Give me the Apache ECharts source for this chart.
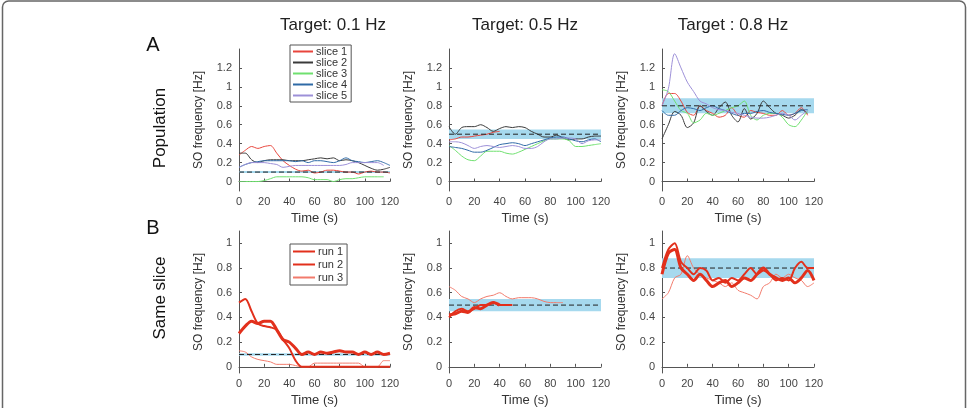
<!DOCTYPE html>
<html>
<head>
<meta charset="utf-8">
<script src="https://cdn.jsdelivr.net/npm/echarts@6/dist/echarts.min.js"></script>
<style>
  html, body { margin: 0; padding: 0; background: #fff; }
  #main { width: 969px; height: 408px; }
</style>
</head>
<body>
<div id="main"></div>
<script>
// time axis, seconds
var timeSec = [0,5,10,15,20,25,30,35,40,45,50,55,60,65,70,75,80,85,90,95,100,105,110,115,120];
var xTicks = [0,20,40,60,80,100,120];
var yTicksA = [0,0.2,0.4,0.6,0.8,1,1.2];
var yTicksB = [0,0.2,0.4,0.6,0.8,1];

var targets = [0.1, 0.5, 0.8];
var bandHalf = [0.01, 0.05, 0.08];
var titles = ['Target: 0.1 Hz', 'Target: 0.5 Hz', 'Target : 0.8 Hz'];

var sliceNames = ['slice 1','slice 2','slice 3','slice 4','slice 5'];
var runNames = ['run 1','run 2','run 3'];

// Population, target 0.1 Hz
var pop01_s1 = [0.28,0.33,0.37,0.35,0.37,0.38,0.30,0.22,0.17,0.13,0.11,0.12,0.09,0.10,0.12,0.12,0.11,0.10,0.10,0.08,0.10,0.11,0.10,0.10,0.09];
var pop01_s2 = [0.30,0.30,0.23,0.20,0.22,0.23,0.23,0.23,0.22,0.22,0.22,0.23,0.24,0.25,0.24,0.25,0.22,0.23,0.22,0.20,0.17,0.14,0.12,0.13,0.15];
var pop01_s3 = [0.00,0.00,0.00,0.00,0.01,0.03,0.05,0.05,0.05,0.05,0.05,0.04,0.02,0.02,0.02,0.00,0.02,0.03,0.03,0.04,0.05,0.05,0.05,0.05,null];
var pop01_s4 = [0.15,0.18,0.20,0.21,0.22,0.22,0.22,0.22,0.22,0.21,0.22,0.20,0.22,0.22,0.21,0.20,0.22,0.25,0.22,0.21,0.20,0.21,0.22,0.20,0.17];
var pop01_s5 = [0.15,0.18,0.20,0.20,0.20,0.19,0.18,0.15,0.16,0.17,0.17,0.17,0.17,0.17,0.17,0.17,0.17,0.18,0.20,0.20,0.20,0.20,0.20,0.17,null];

// Population, target 0.5 Hz
var pop05_s1 = [0.44,0.45,0.47,0.47,0.48,0.49,0.50,0.52,0.53,null,null,null,null,null,null,null,null,null,null,null,null,null,null,null,null];
var pop05_s2 = [0.58,0.50,0.57,0.58,0.58,0.60,0.57,0.53,0.56,0.58,0.57,0.58,0.57,0.53,0.50,0.47,0.47,0.49,0.46,0.44,0.45,0.45,0.47,0.48,0.48];
var pop05_s3 = [0.38,0.33,0.27,0.23,0.22,0.27,0.32,0.32,0.32,0.30,0.29,0.31,0.34,0.37,0.40,0.43,0.45,0.45,0.45,0.43,0.37,0.37,0.38,0.39,0.40];
var pop05_s4 = [0.37,0.36,0.35,0.33,0.31,0.31,0.33,0.36,0.39,0.40,0.41,0.40,0.38,0.40,0.42,0.44,0.46,0.47,0.47,0.45,0.43,0.42,0.44,0.45,0.42];
var pop05_s5 = [0.42,0.42,0.41,0.38,0.35,0.37,0.38,0.37,0.36,0.37,0.38,0.37,0.35,0.35,0.37,0.42,0.45,0.45,0.46,0.46,0.45,0.40,0.43,0.44,0.44];

// Population, target 0.8 Hz
var pop08_s1 = [0.80,0.93,0.93,0.85,0.73,0.70,0.80,0.75,0.72,0.68,0.70,0.78,0.70,0.68,0.75,0.73,0.72,0.70,0.70,0.75,0.70,0.72,0.78,0.70,null];
var pop08_s2 = [0.45,0.60,0.74,0.70,0.57,0.62,0.80,0.74,0.70,0.78,0.84,0.70,0.63,0.77,0.66,0.72,0.85,0.78,0.72,0.70,0.67,0.70,0.76,0.72,null];
var pop08_s3 = [0.97,0.95,0.85,0.75,0.72,0.62,0.65,0.72,0.70,0.72,0.75,0.78,0.80,0.85,0.70,0.65,0.70,0.72,0.72,0.68,0.60,0.58,0.65,0.75,null];
var pop08_s4 = [0.75,0.70,0.70,0.75,0.78,0.77,0.75,0.78,0.80,0.77,0.75,0.72,0.70,0.72,0.72,0.74,0.75,0.73,0.72,0.71,0.70,0.72,0.75,0.76,null];
var pop08_s5 = [0.80,0.98,1.35,1.20,1.05,0.95,0.85,0.82,0.78,0.76,0.75,0.73,0.72,0.70,0.68,0.67,0.67,0.68,0.70,0.72,0.70,0.65,0.70,0.75,null];

// Same slice, target 0.1 Hz
var same01_r1 = [0.27,0.33,0.37,0.35,0.37,0.37,0.30,0.22,0.20,0.15,0.10,0.12,0.10,0.12,0.11,0.12,0.13,0.12,0.12,0.10,0.12,0.10,0.12,0.10,0.11];
var same01_r2 = [0.52,0.55,0.45,0.35,0.33,0.32,0.30,0.22,0.15,0.05,0.00,0.00,0.00,0.00,0.00,0.00,0.00,0.00,0.00,0.00,0.00,0.00,0.00,0.00,0.00];
var same01_r3 = [0.13,0.12,0.08,0.06,0.05,0.04,0.02,0.02,0.02,0.01,0.00,0.00,0.03,0.03,0.03,0.03,0.03,0.03,0.03,0.03,0.00,0.00,0.00,0.05,0.05];

// Same slice, target 0.5 Hz
var same05_r1 = [0.42,0.43,0.45,0.44,0.48,0.47,0.50,0.52,0.50,null,null,null,null,null,null,null,null,null,null,null,null,null,null,null,null];
var same05_r2 = [0.40,0.45,0.47,0.45,0.47,0.50,0.50,0.52,0.50,0.50,0.50,null,null,null,null,null,null,null,null,null,null,null,null,null,null];
var same05_r3 = [0.65,0.62,0.57,0.55,0.52,0.55,0.57,0.58,0.60,0.57,0.55,0.56,0.56,0.56,0.55,0.53,0.52,0.52,0.52,null,null,null,null,null,null];

// Same slice, target 0.8 Hz
var same08_r1 = [0.75,0.92,0.95,0.80,0.75,0.70,0.75,0.70,0.65,0.68,0.70,0.65,0.68,0.72,0.70,0.75,0.80,0.75,0.72,0.70,0.72,0.68,0.72,0.78,0.70];
var same08_r2 = [0.80,0.95,1.00,0.85,0.80,0.75,0.80,0.78,0.70,0.72,0.68,0.72,0.70,0.75,0.80,0.75,0.78,0.75,0.70,0.72,0.70,0.80,0.85,0.80,0.80];
var same08_r3 = [0.55,0.60,0.72,0.75,0.90,0.80,0.75,0.72,0.70,0.68,0.65,0.68,0.62,0.60,0.58,0.55,0.65,0.68,0.75,0.72,0.75,0.72,0.70,0.65,0.68];

var popData = [
    [pop01_s1, pop01_s2, pop01_s3, pop01_s4, pop01_s5],
    [pop05_s1, pop05_s2, pop05_s3, pop05_s4, pop05_s5],
    [pop08_s1, pop08_s2, pop08_s3, pop08_s4, pop08_s5]
];
var sameData = [
    [same01_r1, same01_r2, same01_r3],
    [same05_r1, same05_r2, same05_r3],
    [same08_r1, same08_r2, same08_r3]
];

var sliceColors = ['#e8453c', '#3a3a3a', '#6fe06f', '#2f6aa6', '#9d90d8'];
var runColors = ['#e2301c', '#e2301c', '#f27b6c'];
var runWidths = [3, 2, 1];

(function(){
    var myChart = echarts.init(document.getElementById('main'));
    var font = 'Liberation Sans, Arial, sans-serif';

    var lefts = [239, 449, 662];
    var widths = [151, 152, 152];

    var grids = [], xAxes = [], yAxes = [], series = [];

    function addPanel(row, col) {
        var idx = row * 3 + col;
        grids.push({
            left: lefts[col], width: widths[col],
            top: row === 0 ? 49 : 231, height: 142
        });
        xAxes.push({
            type: 'value', gridIndex: idx, min: 0, max: 120, interval: 20,
            name: 'Time (s)', nameLocation: 'middle', nameGap: 21,
            nameTextStyle: { fontSize: 13, color: '#333', fontFamily: font },
            axisLine: { lineStyle: { color: '#555', width: 1 } },
            axisTick: { inside: true, length: 3, lineStyle: { color: '#555' } },
            axisLabel: { fontSize: 11, color: '#444', margin: 5, fontFamily: font },
            splitLine: { show: false }
        });
        var ticks = row === 0 ? yTicksA : yTicksB;
        yAxes.push({
            type: 'value', gridIndex: idx,
            min: row === 0 ? -0.1 : -0.05, max: row === 0 ? 1.4 : 1.1,
            name: 'SO frequency [Hz]', nameLocation: 'middle', nameGap: 34,
            nameTextStyle: { fontSize: 12, color: '#333', fontFamily: font },
            axisLine: { show: true, lineStyle: { color: '#555', width: 1 } },
            axisTick: { show: true, inside: true, length: 3, customValues: ticks, lineStyle: { color: '#555' } },
            axisLabel: { fontSize: 11, color: '#444', margin: 7, customValues: ticks, fontFamily: font },
            splitLine: { show: false }
        });

        // target line + tolerance band
        var tg = targets[col];
        series.push({
            name: 'target', type: 'line', xAxisIndex: idx, yAxisIndex: idx,
            data: [[0, tg], [120, tg]], symbol: 'none', silent: true, z: 4,
            lineStyle: { color: '#222', width: 1, type: [5, 3] },
            markArea: {
                silent: true,
                itemStyle: { color: '#a6d9ee' },
                data: [[{ yAxis: tg - bandHalf[col], xAxis: 0 }, { yAxis: tg + bandHalf[col], xAxis: 120 }]]
            }
        });

        if (row === 0) {
            popData[col].forEach(function (vals, k) {
                series.push({
                    name: sliceNames[k], type: 'line', xAxisIndex: idx, yAxisIndex: idx,
                    data: timeSec.map(function (t, i) { return [t, vals[i]]; }),
                    symbol: 'none', smooth: 0.3, z: 3,
                    lineStyle: { color: sliceColors[k], width: 1 },
                    itemStyle: { color: sliceColors[k] }
                });
            });
        } else {
            sameData[col].forEach(function (vals, k) {
                series.push({
                    name: runNames[k], type: 'line', xAxisIndex: idx, yAxisIndex: idx,
                    data: timeSec.map(function (t, i) { return [t, vals[i]]; }),
                    symbol: 'none', smooth: 0.3, z: 5 - k,
                    lineStyle: { color: runColors[k], width: runWidths[k] },
                    itemStyle: { color: runColors[k] }
                });
            });
        }
    }

    for (var r = 0; r < 2; r++) {
        for (var c = 0; c < 3; c++) addPanel(r, c);
    }

    var titleCenters = [328, 520, 728];
    var option = {
        animation: false,
        textStyle: { fontFamily: font },
        title: titles.map(function (t, i) {
            return {
                text: t, left: titleCenters[i], top: 12, textAlign: 'center',
                textStyle: { fontSize: 17, fontWeight: 'normal', color: '#222', fontFamily: font }
            };
        }),
        legend: [
            {
                data: sliceNames, orient: 'vertical', left: 290, top: 45,
                itemWidth: 20, itemHeight: 8, itemGap: 0,
                padding: [1, 4, 1, 2],
                itemStyle: { opacity: 0 },
                borderColor: '#555', borderWidth: 1, backgroundColor: '#fff',
                textStyle: { fontSize: 11, color: '#333', lineHeight: 10, padding: [0, 0, 0, -2] }
            },
            {
                data: runNames, orient: 'vertical', left: 290, top: 244,
                itemWidth: 22, itemHeight: 8, itemGap: 2,
                padding: [2, 4, 2, 2],
                itemStyle: { opacity: 0 },
                borderColor: '#555', borderWidth: 1, backgroundColor: '#fff',
                textStyle: { fontSize: 11, color: '#333', lineHeight: 10, padding: [0, 0, 0, -2] }
            }
        ],
        grid: grids,
        xAxis: xAxes,
        yAxis: yAxes,
        series: series,
        graphic: [
            { type: 'rect', shape: { x: 2.5, y: 1, width: 963, height: 430, r: 6 },
              style: { fill: 'none', stroke: '#666', lineWidth: 1.5 }, silent: true },
            { type: 'text', x: 153, y: 45, style: { text: 'A', fontSize: 20, fill: '#111', align: 'center', verticalAlign: 'middle', fontFamily: font } },
            { type: 'text', x: 153, y: 228, style: { text: 'B', fontSize: 20, fill: '#111', align: 'center', verticalAlign: 'middle', fontFamily: font } },
            { type: 'text', x: 160, y: 128, rotation: Math.PI / 2, style: { text: 'Population', fontSize: 17, fill: '#111', align: 'center', verticalAlign: 'middle', fontFamily: font } },
            { type: 'text', x: 160, y: 298, rotation: Math.PI / 2, style: { text: 'Same slice', fontSize: 17, fill: '#111', align: 'center', verticalAlign: 'middle', fontFamily: font } }
        ]
    };
    myChart.setOption(option);
})();
</script>
</body>
</html>
